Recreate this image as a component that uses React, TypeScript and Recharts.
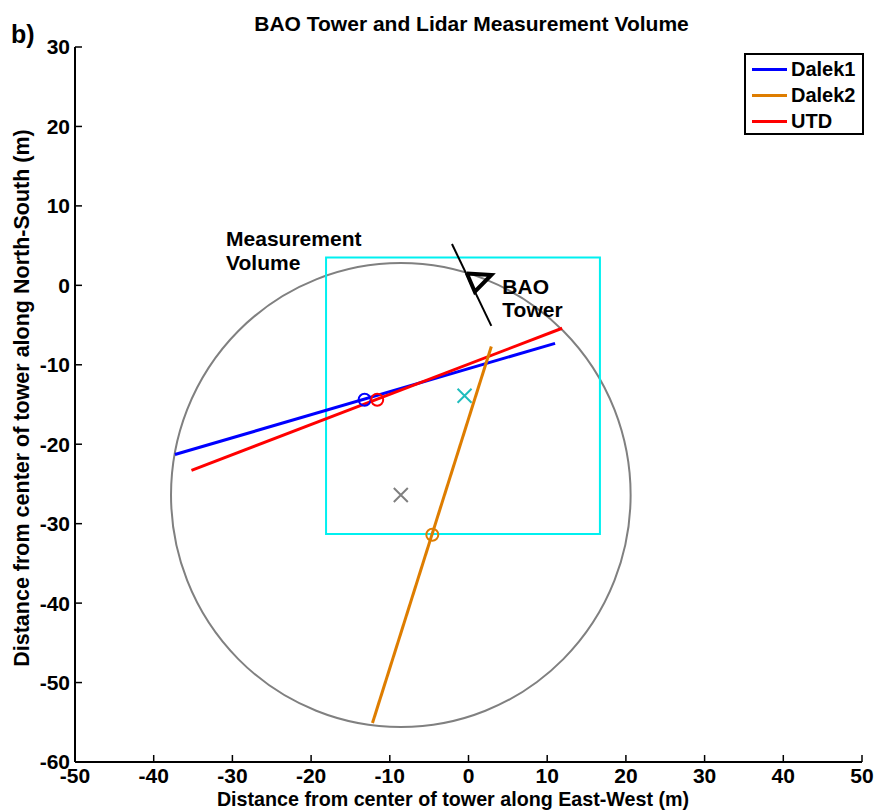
import React from 'react';
import { ScatterChart, Scatter, XAxis, YAxis, ReferenceArea } from 'recharts';

const xTicks = [-50, -40, -30, -20, -10, 0, 10, 20, 30, 40, 50];
const yTicks = [-60, -50, -40, -30, -20, -10, 0, 10, 20, 30];

// lidar beams (start/end)
const dalek1Line = [{ x: -37.3, y: -21.3 }, { x: 11.0, y: -7.3 }];
const dalek2Line = [{ x: -12.2, y: -55.1 }, { x: 2.9, y: -7.7 }];
const utdLine = [{ x: -35.2, y: -23.3 }, { x: 11.9, y: -5.4 }];

// where each beam crosses the volume
const dalek1Mark = [{ x: -13.2, y: -14.4 }];
const dalek2Mark = [{ x: -4.6, y: -31.4 }];
const utdMark = [{ x: -11.6, y: -14.4 }];

const towerPole = [{ x: -2.1, y: 5.2 }, { x: 2.9, y: -5.1 }];
const towerTriangle = [
  { x: -0.2, y: 1.5 },
  { x: 2.9, y: 1.3 },
  { x: 0.8, y: -0.8 },
  { x: -0.2, y: 1.5 },
];

const volumeBox = { x1: -18.1, x2: 16.7, y1: -31.3, y2: 3.5 };
const volumeCenter = [{ x: -0.5, y: -13.9 }];
const scanCircle = { cx: -8.6, cy: -26.4, r: 29.2 };
const circleCenter = [{ x: -8.6, y: -26.4 }];

const notes = [
  { x: -30.8, y: 5.9, text: 'Measurement' },
  { x: -30.8, y: 2.9, text: 'Volume' },
  { x: 4.3, y: -0.1, text: 'BAO' },
  { x: 4.3, y: -3.1, text: 'Tower' },
];

const legendItems = [
  { name: 'Dalek1', color: '#0000FF' },
  { name: 'Dalek2', color: '#DE7D00' },
  { name: 'UTD', color: '#FF0000' },
];

const font = '"Liberation Sans", Arial, sans-serif';
const tickStyle = { fontSize: 21, fontWeight: 'bold', fill: '#000', fontFamily: font };

const noDot = () => <g />;
const ring = (color: string) => (p: any) => (
  <circle cx={p.cx} cy={p.cy} r={6} fill="none" stroke={color} strokeWidth={2} />
);
const cross = (color: string) => (p: any) => (
  <path
    d={`M${p.cx - 7},${p.cy - 7}L${p.cx + 7},${p.cy + 7}M${p.cx - 7},${p.cy + 7}L${p.cx + 7},${p.cy - 7}`}
    stroke={color}
    strokeWidth={2}
    fill="none"
  />
);
const noteText = (p: any) => (
  <text x={p.cx} y={p.cy} dominantBaseline="central" fontSize={21} fontWeight="bold" fontFamily={font} fill="#000">
    {p.payload.text}
  </text>
);

export default function App() {
  return (
    <div style={{ position: 'absolute', left: 0, top: 0, width: 883, height: 812, background: '#fff', fontFamily: font }}>
      <div style={{ position: 'absolute', left: 0, width: 943, top: 12, textAlign: 'center', fontSize: 21, fontWeight: 'bold' }}>
        BAO Tower and Lidar Measurement Volume
      </div>
      <div style={{ position: 'absolute', left: 11, top: 20, fontSize: 25, fontWeight: 'bold' }}>b)</div>
      <ScatterChart width={883} height={812} margin={{ top: 47, right: 21, bottom: 20, left: 30 }}>
        <XAxis
          type="number"
          dataKey="x"
          domain={[-50, 50]}
          ticks={xTicks}
          interval={0}
          tickSize={-7}
          tickMargin={13}
          height={30}
          axisLine={{ stroke: '#000', strokeWidth: 2 }}
          tickLine={{ stroke: '#000', strokeWidth: 1.5 }}
          tick={tickStyle}
          allowDataOverflow
        />
        <XAxis
          xAxisId="top"
          orientation="top"
          type="number"
          domain={[-50, 50]}
          ticks={xTicks}
          interval={0}
          tickSize={-7}
          height={0}
          axisLine={{ stroke: '#000', strokeWidth: 2 }}
          tickLine={{ stroke: '#000', strokeWidth: 1.5 }}
          tick={false}
        />
        <YAxis
          type="number"
          dataKey="y"
          domain={[-60, 30]}
          ticks={yTicks}
          interval={0}
          tickSize={-7}
          tickMargin={12}
          width={45}
          axisLine={{ stroke: '#000', strokeWidth: 2 }}
          tickLine={{ stroke: '#000', strokeWidth: 1.5 }}
          tick={tickStyle}
          allowDataOverflow
        />
        <YAxis
          yAxisId="right"
          orientation="right"
          type="number"
          domain={[-60, 30]}
          ticks={yTicks}
          interval={0}
          tickSize={-7}
          width={0}
          axisLine={{ stroke: '#000', strokeWidth: 2 }}
          tickLine={{ stroke: '#000', strokeWidth: 1.5 }}
          tick={false}
        />
        <ReferenceArea
          x1={scanCircle.cx - scanCircle.r}
          x2={scanCircle.cx + scanCircle.r}
          y1={scanCircle.cy - scanCircle.r}
          y2={scanCircle.cy + scanCircle.r}
          shape={(p: any) => (
            <ellipse
              cx={p.x + p.width / 2}
              cy={p.y + p.height / 2}
              rx={Math.abs(p.width) / 2}
              ry={Math.abs(p.height) / 2}
              fill="none"
              stroke="#808080"
              strokeWidth={2}
            />
          )}
        />
        <ReferenceArea
          x1={volumeBox.x1}
          x2={volumeBox.x2}
          y1={volumeBox.y1}
          y2={volumeBox.y2}
          fill="none"
          fillOpacity={0}
          stroke="#00F0F0"
          strokeWidth={2}
        />
        <Scatter data={dalek1Line} fill="#0000FF" line={{ stroke: '#0000FF', strokeWidth: 3 }} shape={noDot} isAnimationActive={false} />
        <Scatter data={utdLine} fill="#FF0000" line={{ stroke: '#FF0000', strokeWidth: 3 }} shape={noDot} isAnimationActive={false} />
        <Scatter data={dalek2Line} fill="#DE7D00" line={{ stroke: '#DE7D00', strokeWidth: 3 }} shape={noDot} isAnimationActive={false} />
        <Scatter data={dalek1Mark} shape={ring('#0000FF')} isAnimationActive={false} />
        <Scatter data={utdMark} shape={ring('#FF0000')} isAnimationActive={false} />
        <Scatter data={dalek2Mark} shape={ring('#DE7D00')} isAnimationActive={false} />
        <Scatter data={volumeCenter} shape={cross('#20BDBD')} isAnimationActive={false} />
        <Scatter data={circleCenter} shape={cross('#808080')} isAnimationActive={false} />
        <Scatter data={towerPole} fill="#000" line={{ stroke: '#000', strokeWidth: 2 }} shape={noDot} isAnimationActive={false} />
        <Scatter data={towerTriangle} fill="#000" line={{ stroke: '#000', strokeWidth: 4 }} shape={noDot} isAnimationActive={false} />
        <Scatter data={notes} shape={noteText} isAnimationActive={false} />
      </ScatterChart>
      <div
        style={{
          position: 'absolute',
          left: 744,
          top: 53,
          width: 120,
          height: 82,
          border: '2px solid #000',
          background: '#fff',
          padding: '1px 0',
          boxSizing: 'border-box',
        }}
      >
        {legendItems.map((item) => (
          <div key={item.name} style={{ display: 'flex', alignItems: 'center', height: 26 }}>
            <div style={{ width: 35, height: 3, background: item.color, marginLeft: 6, marginRight: 4 }} />
            <span style={{ fontSize: 20, fontWeight: 'bold', lineHeight: '26px' }}>{item.name}</span>
          </div>
        ))}
      </div>
      <div
        style={{
          position: 'absolute',
          left: 53,
          width: 800,
          top: 789,
          textAlign: 'center',
          fontSize: 19.7,
          lineHeight: '20px',
          fontWeight: 'bold',
        }}
      >
        Distance from center of tower along East-West (m)
      </div>
      <div
        style={{
          position: 'absolute',
          left: 22,
          top: 398,
          width: 700,
          marginLeft: -350,
          textAlign: 'center',
          fontSize: 21.5,
          fontWeight: 'bold',
          lineHeight: '24px',
          marginTop: -12,
          transform: 'rotate(-90deg)',
        }}
      >
        Distance from center of tower along North-South (m)
      </div>
    </div>
  );
}
